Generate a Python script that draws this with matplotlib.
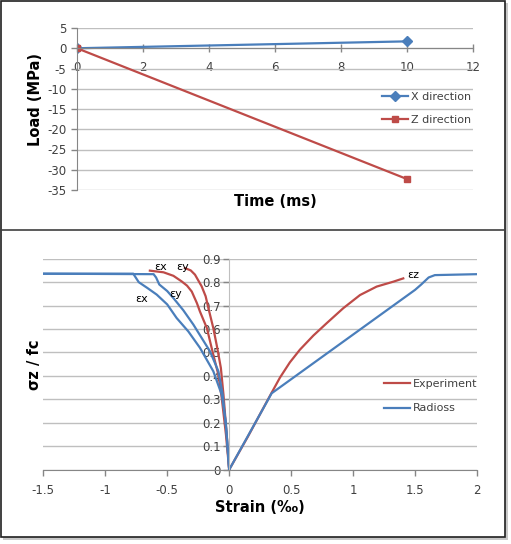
import matplotlib
matplotlib.use('Agg')
import matplotlib.pyplot as plt
from matplotlib.patches import Rectangle
from matplotlib.lines import Line2D

# top chart: load history
time_ms = [0, 10]
load_x = [0, 1.7]
load_z = [0, -32.3]

# bottom chart: stress-strain, experiment
exp_ex_strain = [-0.64, -0.53, -0.45, -0.383, -0.34, -0.302, -0.26, -0.236, -0.18, -0.128, -0.087, -0.06, -0.026, 0.0]
exp_ex_stress = [0.849, 0.842, 0.827, 0.803, 0.785, 0.76, 0.71, 0.675, 0.604, 0.49, 0.405, 0.306, 0.15, 0.0]
exp_ey_strain = [-0.357, -0.31, -0.276, -0.222, -0.19, -0.168, -0.128, -0.096, -0.067, -0.046, -0.02, 0.0]
exp_ey_stress = [0.86, 0.85, 0.832, 0.782, 0.74, 0.69, 0.604, 0.519, 0.434, 0.32, 0.15, 0.0]
exp_ez_strain = [0.0, 0.15, 0.33, 0.41, 0.49, 0.571, 0.679, 0.787, 0.921, 1.056, 1.19, 1.325, 1.405]
exp_ez_stress = [0.0, 0.14, 0.316, 0.393, 0.458, 0.512, 0.572, 0.625, 0.689, 0.745, 0.781, 0.802, 0.816]

# radioss
rad_ex_strain = [-1.5, -0.774, -0.73, -0.66, -0.585, -0.5, -0.424, -0.33, -0.236, -0.128, -0.06, -0.028, 0.0]
rad_ex_stress = [0.836, 0.836, 0.80, 0.775, 0.747, 0.705, 0.647, 0.59, 0.52, 0.42, 0.32, 0.206, 0.0]
rad_ey_strain = [-1.5, -0.61, -0.59, -0.564, -0.5, -0.45, -0.37, -0.289, -0.155, -0.087, -0.052, -0.02, 0.0]
rad_ey_stress = [0.836, 0.834, 0.82, 0.79, 0.762, 0.732, 0.68, 0.619, 0.505, 0.42, 0.32, 0.15, 0.0]
rad_ez_strain = [0.0, 0.343, 1.5, 1.55, 1.61, 1.66, 2.0]
rad_ez_stress = [0.0, 0.326, 0.767, 0.79, 0.82, 0.83, 0.834]

curve_labels = ['εx', 'εy', 'εy', 'εx', 'εz']
label_pos = [(-0.557, 0.863), (-0.375, 0.863), (-0.43, 0.75), (-0.706, 0.73), (1.486, 0.832)]

blue = '#4A7EBB'
red = '#BE4B48'
grid = '#BFBFBF'
spine = '#868686'
tickc = '#404040'

W, H = 511, 544
plt.rcParams['font.family'] = ['DejaVu Sans']
plt.rcParams['axes.unicode_minus'] = False
fig = plt.figure(figsize=(W / 100, H / 100), dpi=100)


def px(x0, y0, x1, y1):
    return [x0 / W, 1 - y1 / H, (x1 - x0) / W, (y1 - y0) / H]


def style(ax):
    ax.grid(axis='y', color=grid, linewidth=1)
    ax.set_axisbelow(True)
    for s in ['top', 'right']:
        ax.spines[s].set_visible(False)
    for s in ['left', 'bottom']:
        ax.spines[s].set_color(spine)
    ax.tick_params(colors=spine, labelcolor=tickc, labelsize=8.5, length=4, width=1)


# ---- top chart
load = fig.add_axes(px(77, 28, 473, 190))
load.plot(time_ms, load_x, color=blue, lw=1.6, marker='D', ms=5, label='X direction')
load.plot(time_ms, load_z, color=red, lw=1.6, marker='s', ms=5, label='Z direction')
load.set_xlim(0, 12)
load.set_ylim(-35, 5)
load.set_xticks(range(0, 13, 2))
load.set_yticks(range(-35, 6, 5))
style(load)
load.spines['bottom'].set_position(('data', 0))
load.tick_params(axis='x', direction='inout', length=6, pad=6)
fig.text(35 / W, 1 - 100 / H, 'Load (MPa)', fontsize=10.5, fontweight='bold', rotation=90,
         ha='center', va='center')
fig.text(275 / W, 1 - 202 / H, 'Time (ms)', fontsize=10.5, fontweight='bold', ha='center', va='center')
load.legend(loc='upper left', bbox_to_anchor=(382 / W, 1 - 92 / H), bbox_transform=fig.transFigure,
            frameon=False, fontsize=8, borderpad=0, borderaxespad=0, labelspacing=1.15,
            handlelength=2.3, handletextpad=0.3, labelcolor=tickc)

# ---- bottom chart
ss = fig.add_axes(px(43.3, 258.7, 477, 469.7))
ss.plot(exp_ex_strain, exp_ex_stress, color=red, lw=1.6)
ss.plot(exp_ey_strain, exp_ey_stress, color=red, lw=1.6)
ss.plot(exp_ez_strain, exp_ez_stress, color=red, lw=1.6)
ss.plot(rad_ex_strain, rad_ex_stress, color=blue, lw=1.6)
ss.plot(rad_ey_strain, rad_ey_stress, color=blue, lw=1.6)
ss.plot(rad_ez_strain, rad_ez_stress, color=blue, lw=1.6)
for t, (x, y) in zip(curve_labels, label_pos):
    ss.text(x, y, t, fontsize=8, ha='center', va='center', color='black')
ss.set_xlim(-1.5, 2)
ss.set_ylim(0, 0.9)
ss.set_xticks([-1.5, -1, -0.5, 0, 0.5, 1, 1.5, 2])
ss.set_xticklabels(['-1.5', '-1', '-0.5', '0', '0.5', '1', '1.5', '2'])
ss.set_yticks([i / 10 for i in range(10)])
ss.set_yticklabels(['0'] + ['%.1f' % (i / 10) for i in range(1, 10)])
style(ss)
ss.spines['left'].set_position(('data', 0))
ss.spines['left'].set_color('#BFBFBF')
ss.tick_params(axis='x', pad=6)
ss.tick_params(axis='y', pad=2)
fig.text(260 / W, 1 - 507 / H, 'Strain (‰)', fontsize=10.5, fontweight='bold', ha='center', va='center')
fig.text(35 / W, 1 - 365 / H, 'σz / fc', fontsize=10.5, fontweight='bold', rotation=90,
         ha='center', va='center')
handles = [Line2D([], [], color=red, lw=1.6), Line2D([], [], color=blue, lw=1.6)]
ss.legend(handles, ['Experiment', 'Radioss'], loc='upper left',
          bbox_to_anchor=(384 / W, 1 - 379 / H), bbox_transform=fig.transFigure,
          frameon=False, fontsize=8, borderpad=0, borderaxespad=0, labelspacing=1.3,
          handlelength=2.3, handletextpad=0.3, labelcolor=tickc)

# ---- frame with shadow
fig.add_artist(Rectangle((3 / W, 1 - 540 / H), 505 / W, 537 / H, transform=fig.transFigure,
                         facecolor='#C8C8C8', edgecolor='none', zorder=-2))
fig.add_artist(Rectangle((0.7 / W, 1 - 537 / H), 504 / W, 536.3 / H, transform=fig.transFigure,
                         facecolor='white', edgecolor='#202020', lw=1.2, zorder=-1))
fig.add_artist(Line2D([0.7 / W, 504.7 / W], [1 - 230 / H, 1 - 230 / H], transform=fig.transFigure,
                      color='#404040', lw=1.2))

fig.savefig('out.png', dpi=100)
